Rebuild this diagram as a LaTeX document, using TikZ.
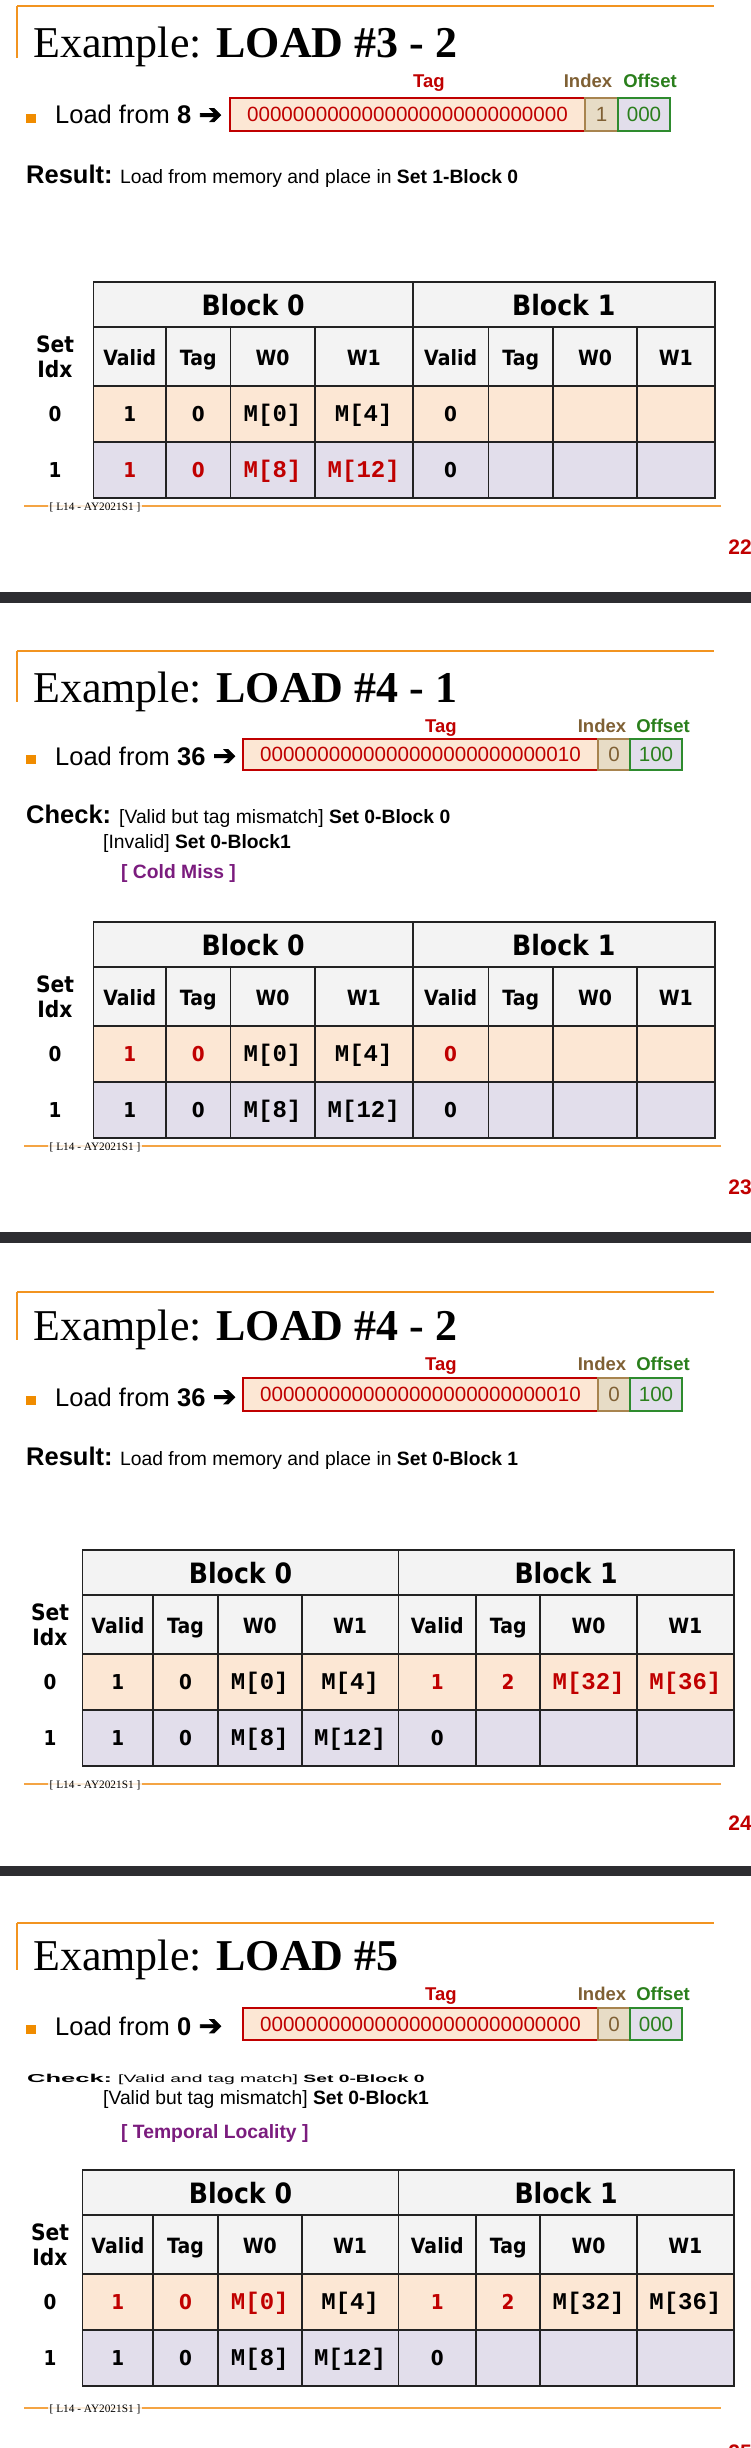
\documentclass[tikz,border=0pt]{standalone}
\usepackage{fontspec}
\usepackage{graphicx}
\newfontfamily\arialf{Liberation Sans}
\newfontfamily\timesf{Liberation Serif}
\newfontfamily\tahf[FakeStretch=0.9]{DejaVu Sans}
\newfontfamily\courf{Liberation Mono}
\newfontfamily\symf[FakeBold=2.5]{DejaVu Sans}
\definecolor{topor}{HTML}{F29420}
\definecolor{footor}{HTML}{F4A444}
\definecolor{bulletor}{HTML}{F08C00}
\definecolor{tagred}{HTML}{C00000}
\definecolor{idxbrown}{HTML}{7F6034}
\definecolor{offgreen}{HTML}{2A7F1C}
\definecolor{purp}{HTML}{7B1C7E}
\definecolor{peach}{HTML}{FCE7D4}
\definecolor{lav}{HTML}{E2DEEB}
\definecolor{tan}{HTML}{E7DCC6}
\definecolor{hdrfill}{HTML}{F3F3F3}
\definecolor{gridc}{HTML}{222222}
\definecolor{darkbar}{HTML}{2D2D31}
\definecolor{idxbord}{HTML}{A8844F}
\definecolor{offbord}{HTML}{2E8B2E}

% slide header: prefix, top line y, title baseline, bold title part
\newcommand\slidehead[4]{%
  \draw[topline] (17,#2) -- (714,#2);
  \draw[topline] (17,#2) -- (17,#3);
  \node[titlestyle] (#1title) at (33,#3) {Example: \textbf{#4}};
}
% address row: prefix, label baseline, box top, box bottom, load baseline, number, tag, index, offset
\newcommand\addrrow[9]{%
  \node[lbl, text=tagred] (#1tagl) at (\tagx,#2) {Tag};
  \node[lbl, text=idxbrown] (#1idxl) at (\idxx,#2) {Index};
  \node[lbl, text=offgreen] (#1offl) at (\offx,#2) {Offset};
  \fill[bulletor] (26,{#5-10}) rectangle (36,{#5-1});
  \node[loadtxt] (#1load) at (55,#5) {Load from \textbf{#6}};
  \node[arrowtxt] (#1arr) at ([xshift=7pt]#1load.base east) {➔};
  \path[draw=tagred, fill=peach, line width=1.2pt] (\axL,#3) rectangle (\axTI,#4);
  \path[draw=idxbord, fill=tan, line width=1.2pt] (\axTI,#3) rectangle (\axIO,#4);
  \path[draw=offbord, fill=lav, line width=1.2pt] (\axIO,#3) rectangle (\axR,#4);
  \node[addrtxt, text=tagred] (#1tagv) at ({(\axL+\axTI)/2},{(#3+#4)/2+7.4}) {#7};
  \node[addrtxt, text=idxbrown] (#1idxv) at ({(\axTI+\axIO)/2},{(#3+#4)/2+7.4}) {#8};
  \node[addrtxt, text=offgreen] (#1offv) at ({(\axIO+\axR)/2},{(#3+#4)/2+7.4}) {#9};
}
% cache table: prefix, top y
\newcommand\cachetab[2]{%
  \fill[hdrfill] (\ca,#2) rectangle (\ci,{#2+104});
  \fill[peach] (\ca,{#2+104}) rectangle (\ci,{#2+160});
  \fill[lav] (\ca,{#2+160}) rectangle (\ci,{#2+216});
  \foreach \yy in {0,45,104,160,216} \draw[gridl] (\ca,{#2+\yy}) -- (\ci,{#2+\yy});
  \foreach \xx in {\ca,\ce,\ci} \draw[gridl] (\xx,#2) -- (\xx,{#2+216});
  \foreach \xx in {\cb,\cc,\cd,\cf,\cg,\ch} \draw[gridl] (\xx,{#2+45}) -- (\xx,{#2+216});
  \node[blk] (#1bA) at ({(\ca+\ce)/2},{#2+33}) {Block 0};
  \node[blk] (#1bB) at ({(\ce+\ci)/2},{#2+33}) {Block 1};
  \node[hd] (#1hA) at ({(\ca+\cb)/2},{#2+83}) {Valid};
  \node[hd] (#1hB) at ({(\cb+\cc)/2},{#2+83}) {Tag};
  \node[hd] (#1hC) at ({(\cc+\cd)/2},{#2+83}) {W0};
  \node[hd] (#1hD) at ({(\cd+\ce)/2},{#2+83}) {W1};
  \node[hd] (#1hE) at ({(\ce+\cf)/2},{#2+83}) {Valid};
  \node[hd] (#1hF) at ({(\cf+\cg)/2},{#2+83}) {Tag};
  \node[hd] (#1hG) at ({(\cg+\ch)/2},{#2+83}) {W0};
  \node[hd] (#1hH) at ({(\ch+\ci)/2},{#2+83}) {W1};
  \node[hd2] (#1set) at (\sx,{#2+70}) {Set};
  \node[hd2] (#1idx) at (\sx,{#2+95}) {Idx};
  \node[dat] (#1rA) at (\sx,{#2+139}) {0};
  \node[dat] (#1rB) at (\sx,{#2+195}) {1};
}
% cell: name, left x, right x, baseline, style, text
\newcommand\cv[6]{\node[#5] (#1) at ({(#2+#3)/2},#4) {#6};}
% footer: prefix, line y, page, page y
\newcommand\slidefoot[4]{%
  \draw[footline] (24,#2) -- (721,#2);
  \node[foottxt] (#1foot) at (95,{#2+1}) {[ L14 - AY2021S1 ]};
  \node[pagenum] (#1page) at (752,#4) {#3};
}
\newcommand\colsA{\def\ca{93.4}\def\cb{166.2}\def\cc{230.4}\def\cd{314.7}\def\ce{412.8}\def\cf{488.5}\def\cg{553.2}\def\ch{637.0}\def\ci{714.6}\def\sx{55}}
\newcommand\colsB{\def\ca{82.4}\def\cb{153.3}\def\cc{217.9}\def\cd{301.7}\def\ce{398.5}\def\cf{476.1}\def\cg{540.2}\def\ch{637.0}\def\ci{733.7}\def\sx{50}}
\newcommand\addrA{\def\axL{230}\def\axTI{585}\def\axIO{618}\def\axR{670}\def\tagx{429}\def\idxx{588}\def\offx{650}}
\newcommand\addrB{\def\axL{243}\def\axTI{598}\def\axIO{630}\def\axR{682}\def\tagx{441}\def\idxx{602}\def\offx{663}}

\begin{document}
\begin{tikzpicture}[x=1pt,y=-1pt,
  topline/.style={draw=topor, line width=1.6pt},
  footline/.style={draw=footor, line width=2pt},
  titlestyle/.style={font=\timesf\fontsize{44}{50}\selectfont, inner sep=0pt, anchor=base west},
  lbl/.style={font=\arialf\bfseries\fontsize{18.5}{22}\selectfont, inner sep=0pt, anchor=base},
  loadtxt/.style={font=\arialf\fontsize{25.5}{30}\selectfont, inner sep=0pt, anchor=base west},
  arrowtxt/.style={font=\symf\fontsize{28}{30}\selectfont, inner sep=0pt, anchor=base west},
  addrtxt/.style={font=\arialf\fontsize{20.6}{24}\selectfont, inner sep=0pt, anchor=base},
  bodytxt/.style={font=\arialf\fontsize{19.3}{23}\selectfont, inner sep=0pt, anchor=base west},
  bigbold/.style={font=\arialf\bfseries\fontsize{25.5}{30}\selectfont, inner sep=0pt, anchor=base west},
  purptxt/.style={font=\arialf\bfseries\fontsize{19.3}{23}\selectfont, text=purp, inner sep=0pt, anchor=base west},
  flat/.style={inner sep=0pt, anchor=base west},
  gridl/.style={draw=gridc, line width=1.8pt, line cap=rect},
  blk/.style={font=\tahf\bfseries\fontsize{28}{32}\selectfont, inner sep=0pt, anchor=base},
  hd/.style={font=\tahf\bfseries\fontsize{21}{24}\selectfont, inner sep=0pt, anchor=base},
  hd2/.style={font=\tahf\bfseries\fontsize{22.5}{26}\selectfont, inner sep=0pt, anchor=base},
  dat/.style={font=\tahf\bfseries\fontsize{20.5}{24}\selectfont, inner sep=0pt, anchor=base},
  datr/.style={dat, text=tagred},
  mono/.style={font=\courf\bfseries\fontsize{24}{28}\selectfont, inner sep=0pt, anchor=base},
  monor/.style={mono, text=tagred},
  foottxt/.style={font=\timesf\fontsize{11.3}{13}\selectfont, fill=white, fill opacity=0.8, text opacity=1, inner sep=1.5pt},
  pagenum/.style={font=\arialf\bfseries\fontsize{21}{24}\selectfont, text=tagred, inner sep=0pt, anchor=east}
]
\useasboundingbox (0,0) rectangle (751,2448);
\fill[white] (0,0) rectangle (751,2448);

% ---------- dark separators ----------
\fill[darkbar] (0,592) rectangle (751,603);
\fill[darkbar] (0,1232) rectangle (751,1243);
\fill[darkbar] (0,1866) rectangle (751,1876);

% ================= Slide 1 =================
\slidehead{s1}{6}{58}{LOAD \#3 - 2}
\addrA
\addrrow{s1}{88}{98}{131}{124}{8}{0000000000000000000000000000}{1}{000}
\node[bigbold] (s1res) at (26,184) {Result:};
\node[bodytxt] (s1rest) at (120,184) {Load from memory and place in \textbf{Set 1-Block 0}};
\colsA
\cachetab{s1}{282}
\cv{s1a1}{\ca}{\cb}{421}{dat}{1}
\cv{s1a2}{\cb}{\cc}{421}{dat}{0}
\cv{s1a3}{\cc}{\cd}{421}{mono}{M[0]}
\cv{s1a4}{\cd}{\ce}{421}{mono}{M[4]}
\cv{s1a5}{\ce}{\cf}{421}{dat}{0}
\cv{s1b1}{\ca}{\cb}{477}{datr}{1}
\cv{s1b2}{\cb}{\cc}{477}{datr}{0}
\cv{s1b3}{\cc}{\cd}{477}{monor}{M[8]}
\cv{s1b4}{\cd}{\ce}{477}{monor}{M[12]}
\cv{s1b5}{\ce}{\cf}{477}{dat}{0}
\slidefoot{s1}{506}{22}{547.5}

% ================= Slide 2 =================
\slidehead{s2}{651}{702}{LOAD \#4 - 1}
\addrB
\addrrow{s2}{732}{739}{770}{765}{36}{0000000000000000000000000010}{0}{100}
\node[bigbold] (s2chk) at (26,823) {Check:};
\node[bodytxt] (s2c1) at (119,823) {[Valid but tag mismatch] \textbf{Set 0-Block 0}};
\node[bodytxt] (s2c2) at (103,848) {[Invalid] \textbf{Set 0-Block1}};
\node[purptxt] (s2c3) at (121,878) {[ Cold Miss ]};
\colsA
\cachetab{s2}{922}
\cv{s2a1}{\ca}{\cb}{1061}{datr}{1}
\cv{s2a2}{\cb}{\cc}{1061}{datr}{0}
\cv{s2a3}{\cc}{\cd}{1061}{mono}{M[0]}
\cv{s2a4}{\cd}{\ce}{1061}{mono}{M[4]}
\cv{s2a5}{\ce}{\cf}{1061}{datr}{0}
\cv{s2b1}{\ca}{\cb}{1117}{dat}{1}
\cv{s2b2}{\cb}{\cc}{1117}{dat}{0}
\cv{s2b3}{\cc}{\cd}{1117}{mono}{M[8]}
\cv{s2b4}{\cd}{\ce}{1117}{mono}{M[12]}
\cv{s2b5}{\ce}{\cf}{1117}{dat}{0}
\slidefoot{s2}{1146}{23}{1187}

% ================= Slide 3 =================
\slidehead{s3}{1292}{1340}{LOAD \#4 - 2}
\addrB
\addrrow{s3}{1370}{1378}{1411}{1406}{36}{0000000000000000000000000010}{0}{100}
\node[bigbold] (s3res) at (26,1465) {Result:};
\node[bodytxt] (s3rest) at (120,1465) {Load from memory and place in \textbf{Set 0-Block 1}};
\colsB
\cachetab{s3}{1550}
\cv{s3a1}{\ca}{\cb}{1689}{dat}{1}
\cv{s3a2}{\cb}{\cc}{1689}{dat}{0}
\cv{s3a3}{\cc}{\cd}{1689}{mono}{M[0]}
\cv{s3a4}{\cd}{\ce}{1689}{mono}{M[4]}
\cv{s3a5}{\ce}{\cf}{1689}{datr}{1}
\cv{s3a6}{\cf}{\cg}{1689}{datr}{2}
\cv{s3a7}{\cg}{\ch}{1689}{monor}{M[32]}
\cv{s3a8}{\ch}{\ci}{1689}{monor}{M[36]}
\cv{s3b1}{\ca}{\cb}{1745}{dat}{1}
\cv{s3b2}{\cb}{\cc}{1745}{dat}{0}
\cv{s3b3}{\cc}{\cd}{1745}{mono}{M[8]}
\cv{s3b4}{\cd}{\ce}{1745}{mono}{M[12]}
\cv{s3b5}{\ce}{\cf}{1745}{dat}{0}
\slidefoot{s3}{1784}{24}{1823.5}

% ================= Slide 4 =================
\slidehead{s4}{1923}{1970}{LOAD \#5}
\addrB
\addrrow{s4}{2000}{2008}{2040}{2035}{0}{0000000000000000000000000000}{0}{000}
\node[flat] (s4chk) at (27,2082) {\scalebox{1}[0.45]{\arialf\bfseries\fontsize{25.5}{30}\selectfont Check:}};
\node[flat] (s4c1) at (118,2082) {\scalebox{1}[0.55]{\arialf\fontsize{19.3}{23}\selectfont [Valid and tag match] \textbf{Set 0-Block 0}}};
\node[bodytxt] (s4c2) at (103,2104) {[Valid but tag mismatch] \textbf{Set 0-Block1}};
\node[purptxt] (s4c3) at (121,2138) {[ Temporal Locality ]};
\colsB
\cachetab{s4}{2170}
\cv{s4a1}{\ca}{\cb}{2309}{datr}{1}
\cv{s4a2}{\cb}{\cc}{2309}{datr}{0}
\cv{s4a3}{\cc}{\cd}{2309}{monor}{M[0]}
\cv{s4a4}{\cd}{\ce}{2309}{mono}{M[4]}
\cv{s4a5}{\ce}{\cf}{2309}{datr}{1}
\cv{s4a6}{\cf}{\cg}{2309}{datr}{2}
\cv{s4a7}{\cg}{\ch}{2309}{mono}{M[32]}
\cv{s4a8}{\ch}{\ci}{2309}{mono}{M[36]}
\cv{s4b1}{\ca}{\cb}{2365}{dat}{1}
\cv{s4b2}{\cb}{\cc}{2365}{dat}{0}
\cv{s4b3}{\cc}{\cd}{2365}{mono}{M[8]}
\cv{s4b4}{\cd}{\ce}{2365}{mono}{M[12]}
\cv{s4b5}{\ce}{\cf}{2365}{dat}{0}
\slidefoot{s4}{2408}{25}{2452}
\end{tikzpicture}
\end{document}
